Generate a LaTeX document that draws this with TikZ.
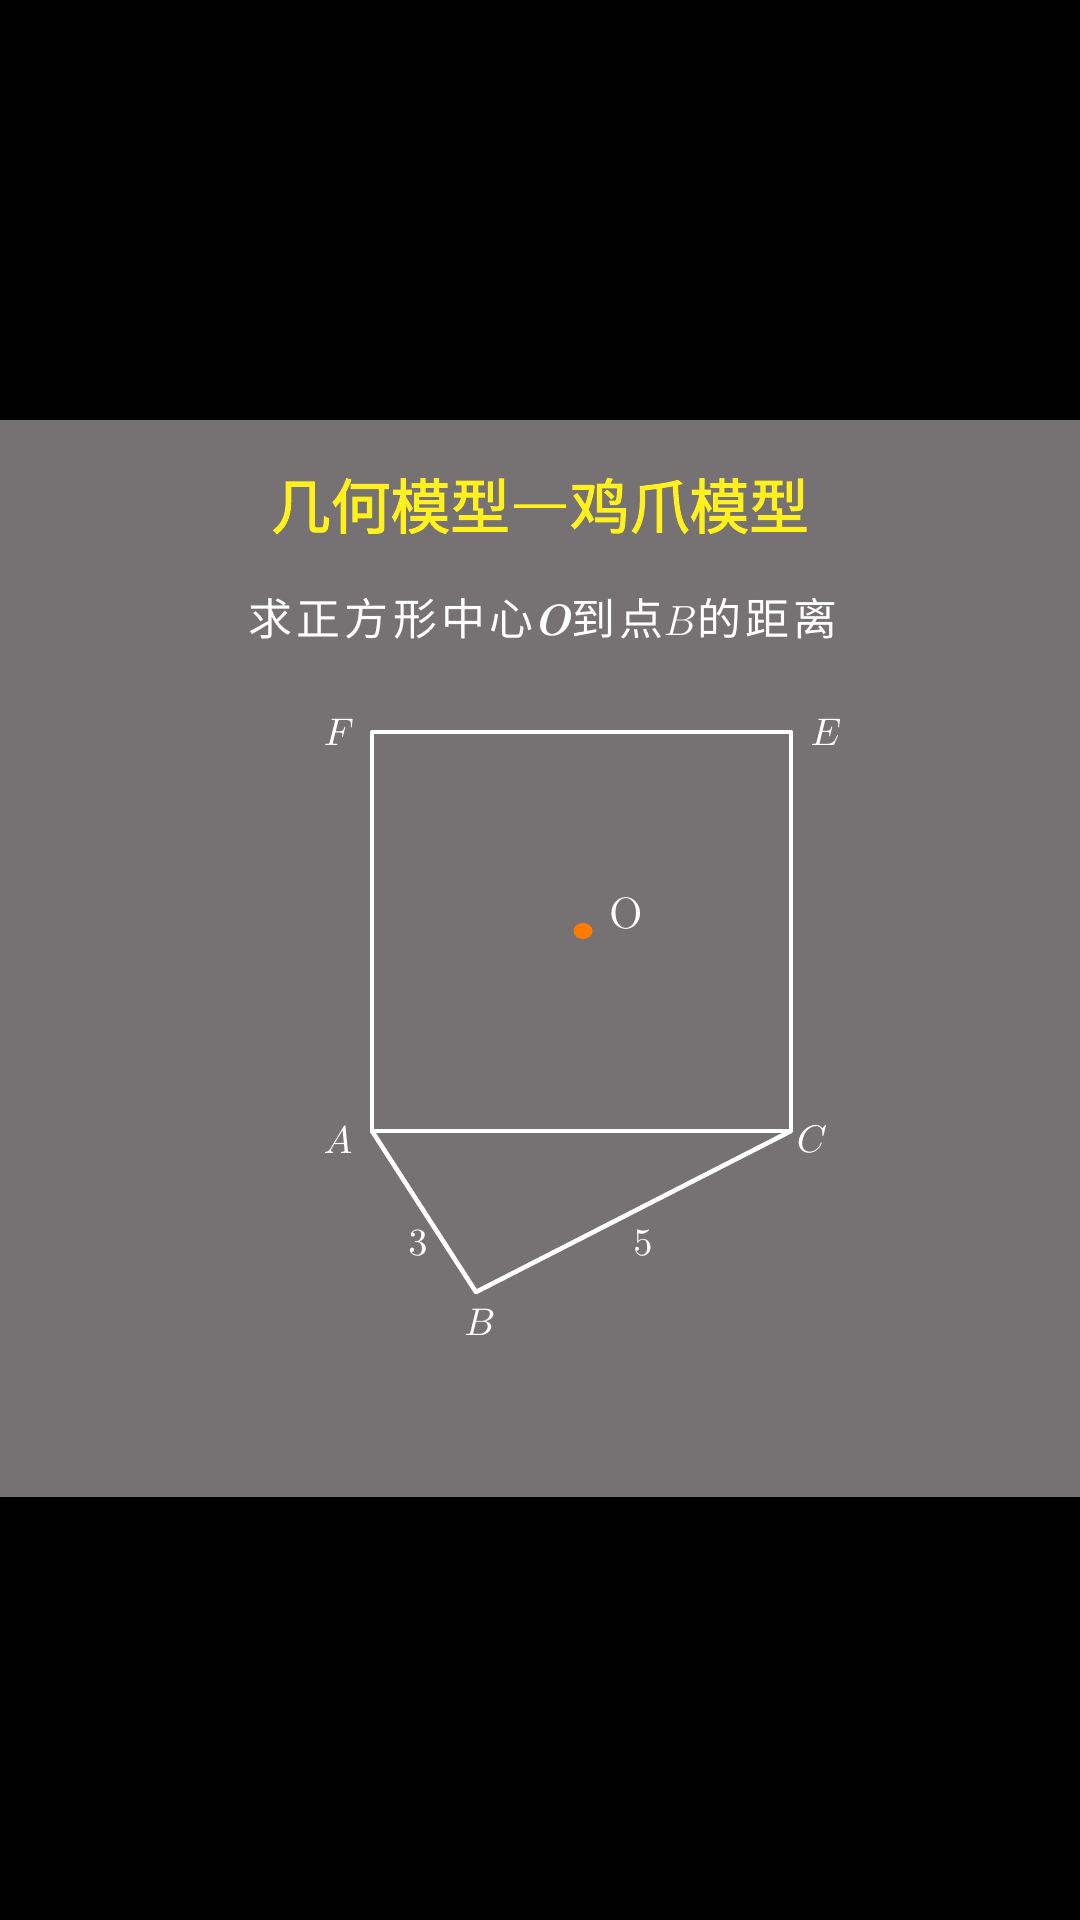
\documentclass[tikz,border=0pt]{standalone}
\usepackage{fontspec}
\newfontfamily\cjk[FakeBold=1.6]{Noto Sans CJK SC}
\newfontfamily\cjkspaced[LetterSpace=10]{Noto Sans CJK SC}
\definecolor{bggray}{RGB}{118,114,115}
\definecolor{titleyellow}{RGB}{255,240,30}
\definecolor{dotorange}{RGB}{255,122,0}
\tikzset{
  edge/.style={white, line width=1.3pt, line join=round},
  ptlabel/.style={white, font=\fontsize{11.4}{14}\selectfont}
}
\begin{document}
\begin{tikzpicture}[x=0.01cm, y=-0.01cm]
  \fill[black] (0,0) rectangle (1080,1920);
  \fill[bggray] (0,420) rectangle (1080,1497);
  \useasboundingbox (0,0) rectangle (1080,1920);
  \node [titleyellow, font=\cjk\fontsize{17}{20}\selectfont] (title) at (540,506) {几何模型{\addfontfeature{CharacterWidth=Full}—}鸡爪模型};
  \node [white, font=\cjkspaced\fontsize{12.5}{15}\selectfont] (question) at (543,619) {求正方形中心{\rmfamily\bfseries\itshape O}到点$B$的距离};
  \coordinate (F) at (372,732);
  \coordinate (E) at (791,732);
  \coordinate (A) at (372,1131);
  \coordinate (C) at (791,1131);
  \coordinate (B) at (476,1292);
  \coordinate (O) at (583,931);
  \draw [edge] (A) -- (F) -- (E) -- (C) -- cycle;
  \draw [edge] (A) -- (B) -- (C);
  \fill [dotorange] (O) ellipse (9.5 and 8);
  \node [ptlabel] (labF) at (339,732) {$F$};
  \node [ptlabel] (labE) at (826,732) {$E$};
  \node [ptlabel] (labA) at (338,1140) {$A$};
  \node [ptlabel] (labC) at (812,1139) {$C$};
  \node [ptlabel] (labB) at (480,1322) {$B$};
  \node [ptlabel, font=\fontsize{12.5}{15}\selectfont] (labO) at (626,913) {O};
  \node [ptlabel] (lab3) at (418,1243) {$3$};
  \node [ptlabel] (lab5) at (643,1243) {$5$};
\end{tikzpicture}
\end{document}
